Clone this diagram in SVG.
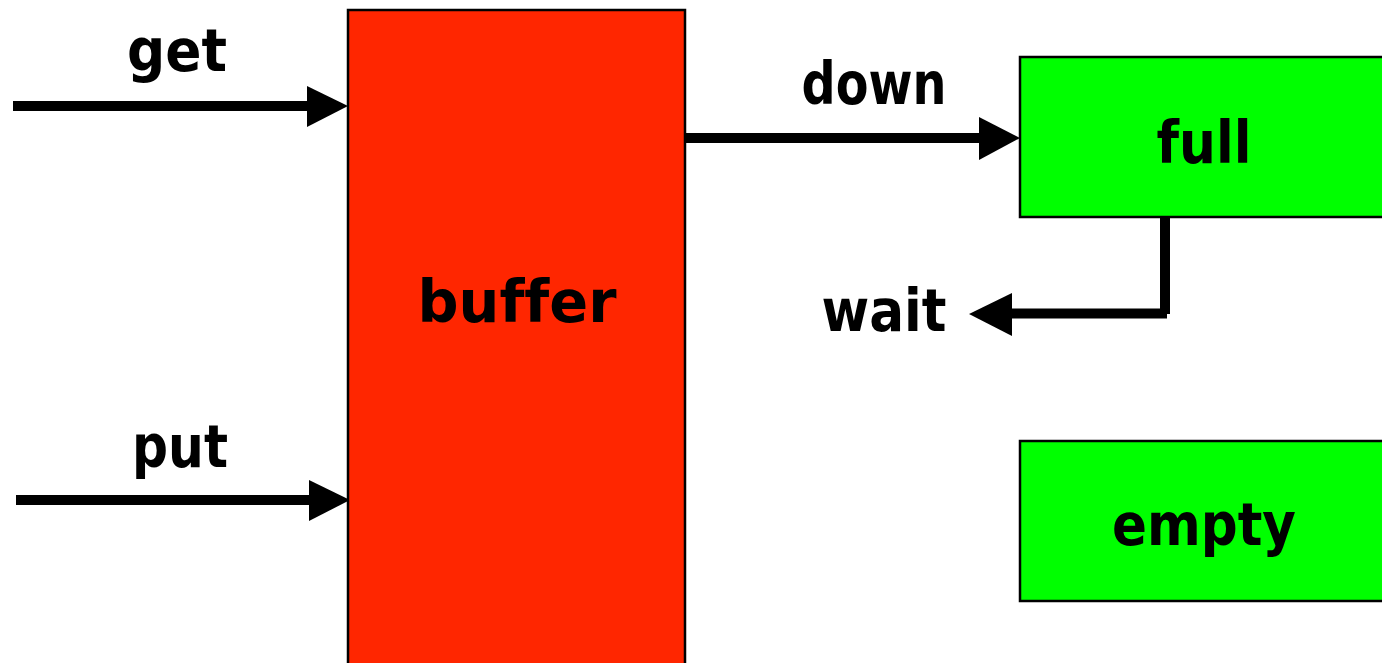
<svg xmlns="http://www.w3.org/2000/svg" width="1382" height="663" viewBox="0 0 1382 663">
<style>
.box{stroke:#000;stroke-width:2.5}
.red{fill:#FF2600}
.green{fill:#00FF00}
.lbl{font-family:"DejaVu Sans","Liberation Sans",sans-serif;font-weight:bold;font-size:58px;fill:#000;text-anchor:middle;font-variant-ligatures:none}
.wire{stroke:#000;stroke-width:10;fill:none}
.head{fill:#000}
</style>
<rect width="1382" height="663" fill="#fff"/>
<g id="connectors">
<line class="wire" x1="13" y1="106" x2="312" y2="106"/>
<polygon class="head" points="307,86 348,106 307,127"/>
<line class="wire" x1="16" y1="500" x2="314" y2="500"/>
<polygon class="head" points="309,480 350,500 309,521"/>
<line class="wire" x1="685" y1="138" x2="984" y2="138"/>
<polygon class="head" points="979,117 1020,138 979,160"/>
<line class="wire" x1="1165" y1="217" x2="1165" y2="314"/>
<line class="wire" x1="1167" y1="313.5" x2="1006" y2="313.5"/>
<polygon class="head" points="1012,293 969,314 1012,336"/>
</g>
<g id="buffer">
<rect class="box red" x="348" y="10" width="337" height="665"/>
<text class="lbl" x="517" y="322" textLength="199" lengthAdjust="spacingAndGlyphs">buffer</text>
</g>
<g id="full">
<rect class="box green" x="1020" y="57" width="370" height="160"/>
<text class="lbl" x="1204" y="163" textLength="95" lengthAdjust="spacingAndGlyphs">full</text>
</g>
<g id="empty">
<rect class="box green" x="1020" y="441" width="370" height="160"/>
<text class="lbl" x="1204" y="545" textLength="184" lengthAdjust="spacingAndGlyphs">empty</text>
</g>
<g id="labels">
<text class="lbl" x="177" y="71" textLength="100" lengthAdjust="spacingAndGlyphs">get</text>
<text class="lbl" x="180" y="467" textLength="96" lengthAdjust="spacingAndGlyphs">put</text>
<text class="lbl" x="874" y="104" textLength="145" lengthAdjust="spacingAndGlyphs">down</text>
<text class="lbl" x="884" y="331" textLength="125" lengthAdjust="spacingAndGlyphs">wait</text>
</g>
</svg>
